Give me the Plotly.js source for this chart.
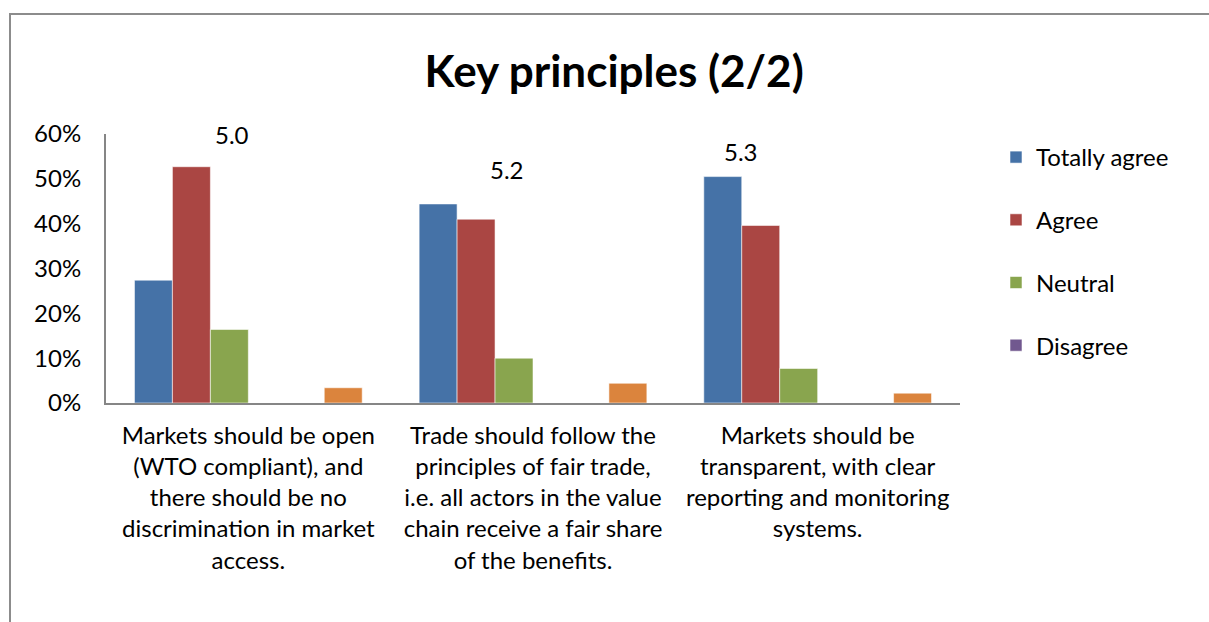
<!DOCTYPE html>
<html>
<head>
<meta charset="utf-8">
<script src="https://cdn.plot.ly/plotly-3.0.1.min.js"></script>
<style>
  html, body { margin: 0; padding: 0; background: #fff; }
  #wrap { position: relative; width: 1209px; height: 622px; overflow: hidden; }
  #frame { position: absolute; left: 9px; top: 13px; width: 1300px; height: 700px;
           border-top: 2px solid #8c8c8c; border-left: 2px solid #8c8c8c; pointer-events: none; }
  #chart { position: absolute; left: 0; top: 0; width: 1209px; height: 622px; }
</style>
</head>
<body>
<div id="wrap">
  <div id="chart"></div>
  <div id="frame"></div>
</div>
<script>
// ---- data ----
const categories = [
  "Markets should be open<br>(WTO compliant), and<br>there should be no<br>discrimination in market<br>access.",
  "Trade should follow the<br>principles of fair trade,<br>i.e. all actors in the value<br>chain receive a fair share<br>of the benefits.",
  "Markets should be<br>transparent, with clear<br>reporting and monitoring<br>systems."
];
const seriesNames = ["Totally agree", "Agree", "Neutral", "Disagree", "Totally disagree", "Don't know"];
const totallyAgree    = [0.274, 0.444, 0.505];
const agree           = [0.527, 0.410, 0.396];
const neutral         = [0.164, 0.100, 0.077];
const disagree        = [0, 0, 0];
const totallyDisagree = [0, 0, 0];
const dontKnow        = [0.034, 0.044, 0.022];
const averages = ["5.0", "5.2", "5.3"];

// ---- styling ----
const colors = ["#4572A7", "#AA4643", "#89A54E", "#71588F", "#3D96AE", "#DB843D"];
const inLegend = [true, true, true, true, false, false];
const values = [totallyAgree, agree, neutral, disagree, totallyDisagree, dontKnow];
const FONT = "Lato, 'Open Sans', sans-serif";
const FS = 24;

const traces = values.map((v, i) => ({
  type: "bar",
  name: seriesNames[i],
  x: categories,
  y: v,
  marker: { color: colors[i], line: { color: "rgba(255,255,255,0.55)", width: 1 } },
  showlegend: inLegend[i],
  legendgroup: "g" + i,
  hoverinfo: "name+y"
}));

// label offsets (category units / data units) for the average values
const avgOffsets = [[-0.056, 0.598], [-0.091, 0.52], [-0.27, 0.56]];
const annotations = averages.map((t, i) => ({
  x: i + avgOffsets[i][0],
  y: avgOffsets[i][1],
  xref: "x", yref: "y",
  text: t,
  showarrow: false,
  xanchor: "center", yanchor: "middle",
  font: { family: FONT, size: FS, color: "#000" }
}));

const layout = {
  width: 1209, height: 622,
  margin: { l: 106, r: 249, t: 134, b: 219 },
  paper_bgcolor: "#fff", plot_bgcolor: "#fff",
  font: { family: FONT, size: FS, color: "#000" },
  title: {
    text: "<b>Key principles (2/2)</b>",
    font: { family: FONT, size: 44, color: "#000" },
    xref: "container", yref: "container",
    x: 0.508, y: 1 - 72 / 622, xanchor: "center", yanchor: "middle"
  },
  barmode: "group",
  bargap: 0.2, bargroupgap: 0,
  xaxis: {
    type: "category",
    showline: true, linecolor: "#868686", linewidth: 2,
    showgrid: false, zeroline: false,
    ticks: "outside", ticklen: 10, tickcolor: "rgba(0,0,0,0)",
    tickfont: { family: FONT, size: FS, color: "#000" },
    fixedrange: true
  },
  yaxis: {
    range: [0, 0.6],
    tickvals: [0, 0.1, 0.2, 0.3, 0.4, 0.5, 0.6],
    tickformat: ".0%",
    showline: true, linecolor: "#868686", linewidth: 2,
    showgrid: false, zeroline: false,
    ticks: "outside", ticklen: 18, tickcolor: "rgba(0,0,0,0)",
    tickfont: { family: FONT, size: FS, color: "#000" },
    fixedrange: true
  },
  legend: {
    x: 996 / 1209, xref: "container", xanchor: "left",
    y: 1 - 135 / 622, yref: "container", yanchor: "top",
    traceorder: "grouped",
    tracegroupgap: 28.5,
    font: { family: FONT, size: FS, color: "#000" },
    itemwidth: 30,
    bgcolor: "rgba(0,0,0,0)"
  },
  annotations: annotations,
  showlegend: true
};

Plotly.newPlot("chart", traces, layout, { displayModeBar: false, staticPlot: true });
</script>
</body>
</html>
